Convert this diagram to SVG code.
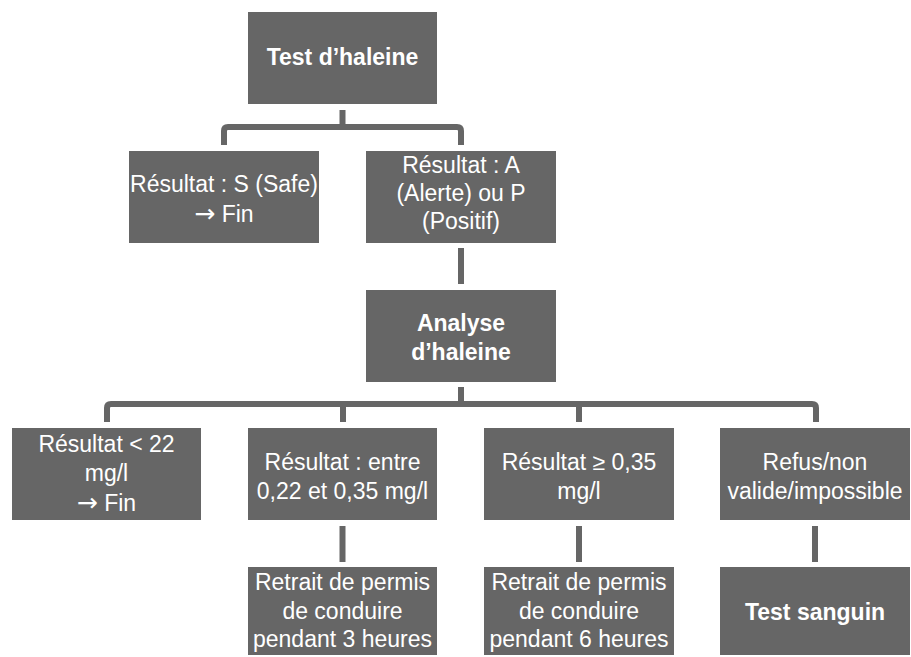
<svg xmlns="http://www.w3.org/2000/svg" width="911" height="657" viewBox="0 0 911 657">
<style>
.box{fill:#666666}
.t{font-family:"Liberation Sans",Arial,sans-serif;font-size:23px;fill:#ffffff;text-anchor:middle}
.b{font-weight:bold}
.ar{font-family:"DejaVu Sans",sans-serif;font-size:25px}
.c{fill:none;stroke:#666666;stroke-width:6;stroke-linejoin:round}
</style>
<rect width="911" height="657" fill="#ffffff"/>
<g id="connectors">
<path class="c" d="M342.5,110 V127 M224,145 V131 Q224,127 228,127 H457 Q461,127 461,131 V145"/>
<path class="c" d="M461,248 V284"/>
<path class="c" d="M461,387 V404 M107,422 V408 Q107,404 111,404 H812 Q816,404 816,408 V422 M343,404 V422 M579,404 V422"/>
<path class="c" d="M342.5,526 V562 M579,526 V562 M815,526 V562"/>
</g>
<g id="n-test-haleine">
<rect class="box" x="248" y="12" width="189" height="92"/>
<text class="t b" x="342.5" y="65">Test d’haleine</text>
</g>
<g id="n-safe">
<rect class="box" x="129" y="151" width="190" height="92"/>
<text class="t" x="224" y="192">Résultat : S (Safe)</text>
<text class="t" x="224" y="222"><tspan class="ar">→</tspan> Fin</text>
</g>
<g id="n-alerte">
<rect class="box" x="366" y="151" width="190" height="92"/>
<text class="t" x="461" y="173">Résultat : A</text>
<text class="t" x="461" y="201">(Alerte) ou P</text>
<text class="t" x="461" y="229">(Positif)</text>
</g>
<g id="n-analyse">
<rect class="box" x="366" y="290" width="190" height="92"/>
<text class="t b" x="461" y="331">Analyse</text>
<text class="t b" x="461" y="360">d’haleine</text>
</g>
<g id="n-inf22">
<rect class="box" x="12" y="428" width="189" height="92"/>
<text class="t" x="106.5" y="452">Résultat &lt; 22</text>
<text class="t" x="106.5" y="481">mg/l</text>
<text class="t" x="106.5" y="511"><tspan class="ar">→</tspan> Fin</text>
</g>
<g id="n-entre">
<rect class="box" x="248" y="428" width="189" height="92"/>
<text class="t" x="342.5" y="470">Résultat : entre</text>
<text class="t" x="342.5" y="499">0,22 et 0,35 mg/l</text>
</g>
<g id="n-sup035">
<rect class="box" x="484" y="428" width="190" height="92"/>
<text class="t" x="579" y="470">Résultat ≥ 0,35</text>
<text class="t" x="579" y="499">mg/l</text>
</g>
<g id="n-refus">
<rect class="box" x="720" y="428" width="190" height="92"/>
<text class="t" x="815" y="470">Refus/non</text>
<text class="t" x="815" y="499">valide/impossible</text>
</g>
<g id="n-retrait3">
<rect class="box" x="248" y="567" width="189" height="88"/>
<text class="t" x="342.5" y="590">Retrait de permis</text>
<text class="t" x="342.5" y="619">de conduire</text>
<text class="t" x="342.5" y="647">pendant 3 heures</text>
</g>
<g id="n-retrait6">
<rect class="box" x="484" y="567" width="190" height="88"/>
<text class="t" x="579" y="590">Retrait de permis</text>
<text class="t" x="579" y="619">de conduire</text>
<text class="t" x="579" y="647">pendant 6 heures</text>
</g>
<g id="n-sanguin">
<rect class="box" x="720" y="567" width="190" height="88"/>
<text class="t b" x="815" y="620">Test sanguin</text>
</g>
</svg>
